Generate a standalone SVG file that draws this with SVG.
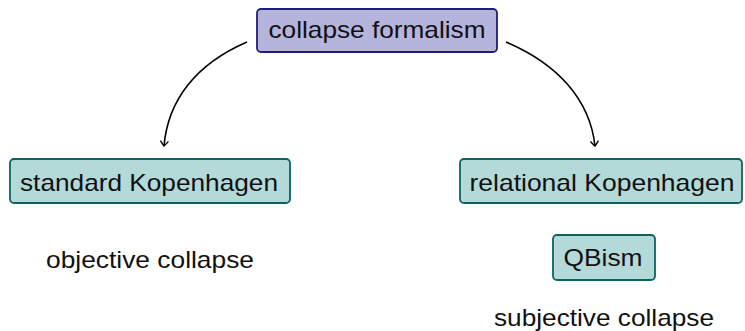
<svg xmlns="http://www.w3.org/2000/svg" width="745" height="331" viewBox="0 0 745 331">
<defs>
<style>
.t{font-family:"Liberation Sans",Arial,sans-serif;font-size:24px;fill:#111;text-anchor:middle}
.top{fill:#b4b4dc;stroke:#1f1f75;stroke-width:1.8}
.tl{fill:#b3d9d9;stroke:#0e6262;stroke-width:1.8}
.c{fill:none;stroke:#000;stroke-width:1.6}
</style>
<marker id="ah" viewBox="-6 -5 8 10" markerWidth="8" markerHeight="10" refX="0" refY="0" orient="auto" markerUnits="userSpaceOnUse">
<path d="M-5,-4 Q-1,-1 0,0 Q-1,1 -5,4" fill="none" stroke="#000" stroke-width="1.4"/>
</marker>
</defs>
<rect width="745" height="331" fill="#fff"/>
<g id="connectors">
<path class="c" d="M247,42 C196,64 168,100 164,146" marker-end="url(#ah)"/>
<path class="c" d="M506,42 C558,64 590,100 595,146" marker-end="url(#ah)"/>
</g>
<g id="collapse-formalism">
<rect class="top" x="257" y="9" width="240" height="43" rx="4"/>
<text class="t" x="377" y="38" textLength="217" lengthAdjust="spacingAndGlyphs">collapse formalism</text>
</g>
<g id="standard-kopenhagen">
<rect class="tl" x="10" y="159" width="280" height="44" rx="4"/>
<text class="t" x="149" y="191" textLength="258" lengthAdjust="spacingAndGlyphs">standard Kopenhagen</text>
</g>
<g id="relational-kopenhagen">
<rect class="tl" x="460" y="159" width="282" height="44" rx="4"/>
<text class="t" x="602" y="191" textLength="265" lengthAdjust="spacingAndGlyphs">relational Kopenhagen</text>
</g>
<g id="qbism">
<rect class="tl" x="553" y="235" width="102" height="45" rx="4"/>
<text class="t" x="603" y="266" textLength="79" lengthAdjust="spacingAndGlyphs">QBism</text>
</g>
<g id="objective-collapse">
<text class="t" x="150" y="268" textLength="208" lengthAdjust="spacingAndGlyphs">objective collapse</text>
</g>
<g id="subjective-collapse">
<text class="t" x="604" y="326" textLength="220" lengthAdjust="spacingAndGlyphs">subjective collapse</text>
</g>
</svg>
